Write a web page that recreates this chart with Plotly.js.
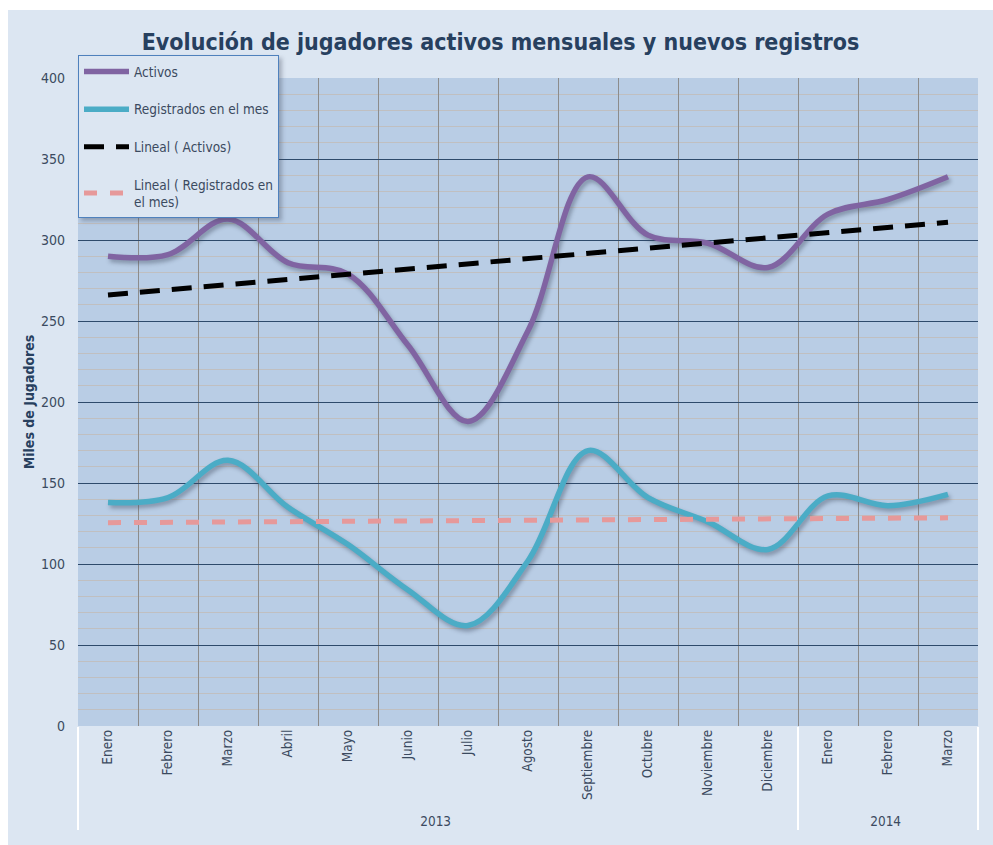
<!DOCTYPE html>
<html>
<head>
<meta charset="utf-8">
<script src="https://cdn.plot.ly/plotly-3.0.1.min.js"></script>
<style>
  html, body { margin: 0; padding: 0; background: #ffffff; }
  #chart { position: absolute; left: 8px; top: 10px; width: 985px; height: 835px; }
  .scatterlayer .trace:nth-child(1) path.js-line,
  .scatterlayer .trace:nth-child(2) path.js-line { filter: drop-shadow(2px 3px 2px rgba(60,70,90,0.45)); }
  .legend .bg { filter: drop-shadow(3px 3px 2px rgba(60,70,90,0.35)); }
</style>
</head>
<body>
<div id="chart"></div>
<script>
// ---- data ----
const years = ["2013","2013","2013","2013","2013","2013","2013","2013","2013","2013","2013","2013","2014","2014","2014"];
const months = ["Enero","Febrero","Marzo","Abril","Mayo","Junio","Julio","Agosto","Septiembre","Octubre","Noviembre","Diciembre","Enero","Febrero","Marzo"];
const activos = [290, 291, 313, 286, 279, 235, 188, 244, 339, 303, 298, 283, 316, 325, 339];
const registrados = [138, 141, 164, 135, 112, 84, 62, 102, 170, 141, 126, 109, 142, 136, 143];
// linear trend end values (first and last month)
const trendActivos = [266, 311];
const trendRegistrados = [125.5, 128.5];
const yTicks = [0, 50, 100, 150, 200, 250, 300, 350, 400];

const FONT = "'Liberation Sans Narrow', 'Arial Narrow', 'DejaVu Sans Condensed', sans-serif";
const x = [years, months];
const xEnds = [[years[0], years[years.length-1]], [months[0], months[months.length-1]]];

const traces = [
  { x: x, y: activos, type: "scatter", mode: "lines", name: "Activos",
    line: { color: "#8064A2", width: 5.5, shape: "spline", smoothing: 1 }, legendgroup: "a" },
  { x: x, y: registrados, type: "scatter", mode: "lines", name: "Registrados en el mes",
    line: { color: "#4BACC6", width: 5.5, shape: "spline", smoothing: 1 }, legendgroup: "b" },
  { x: xEnds, y: trendActivos, type: "scatter", mode: "lines", name: "Lineal ( Activos)",
    line: { color: "#000000", width: 5, dash: "20px,12px" }, legendgroup: "c" },
  { x: xEnds, y: trendRegistrados, type: "scatter", mode: "lines", name: "Lineal ( Registrados en<br>el mes)",
    line: { color: "#E6999A", width: 5, dash: "13px,13px" }, legendgroup: "d" }
];

const layout = {
  width: 985, height: 835,
  paper_bgcolor: "#DCE6F2",
  plot_bgcolor: "#B9CDE5",
  margin: { l: 70, r: 15, t: 68, b: 119 },
  font: { family: FONT, color: "#3B4A60", size: 13 },
  title: { text: "<b>Evolución de jugadores activos mensuales y nuevos registros</b>",
           font: { family: FONT, size: 23, color: "#27405F" },
           x: 0.5, xanchor: "center", y: 0.962, yanchor: "middle" },
  showlegend: true,
  legend: {
    x: 0, xanchor: "left", y: 1.035, yanchor: "top",
    bgcolor: "#DCE6F2", bordercolor: "#4F81BD", borderwidth: 1,
    font: { family: FONT, size: 13.5, color: "#3B4A60" },
    tracegroupgap: 17, traceorder: "grouped", itemwidth: 45
  },
  xaxis: {
    type: "multicategory",
    range: [-0.5, 14.5],
    tickson: "boundaries",
    showgrid: true, gridcolor: "#8C8C8C", gridwidth: 1,
    tickangle: -90,
    tickfont: { family: FONT, size: 13.5, color: "#3B4A60" },
    showdividers: true, dividercolor: "#FFFFFF", dividerwidth: 1.5,
    ticks: "", showline: false, zeroline: false
  },
  yaxis: {
    range: [0, 400],
    tickvals: yTicks,
    showgrid: true, gridcolor: "#2E4A6B", gridwidth: 1,
    minor: { dtick: 10, showgrid: true, gridcolor: "#C0BFC0", gridwidth: 1 },
    zeroline: false, showline: false, ticks: "",
    ticklabelstandoff: 12,
    tickfont: { family: FONT, size: 14, color: "#3B4A60" },
    title: { text: "<b>Miles de Jugadores</b>", font: { family: FONT, size: 14, color: "#27405F" }, standoff: 3 }
  }
};

Plotly.newPlot("chart", traces, layout, { displayModeBar: false, staticPlot: true });
</script>
</body>
</html>
